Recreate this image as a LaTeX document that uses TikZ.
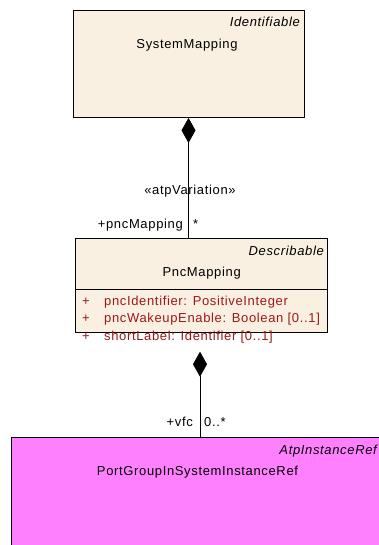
\documentclass[tikz,border=0pt]{standalone}
\usepackage{fontspec}
\setmainfont[LetterSpace=5]{Liberation Sans}
\usetikzlibrary{arrows.meta,positioning}
\definecolor{classfill}{RGB}{250,240,225}
\definecolor{reffill}{RGB}{255,128,255}
\definecolor{attrred}{RGB}{155,25,25}
\tikzset{
  classbox/.style={draw=black, fill=classfill, line width=0.8pt, inner sep=0pt},
  refbox/.style={draw=black, fill=reffill, line width=0.8pt, inner sep=0pt},
  txt/.style={inner sep=0pt, font=\fontsize{13}{15}\selectfont, anchor=base},
  stereo/.style={txt, font=\fontsize{13}{15}\selectfont\itshape, anchor=base east},
  attr/.style={txt, text=attrred, anchor=base west},
  comp/.style={{Diamond[length=25pt,width=14pt]}-, line width=0.8pt},
}
\begin{document}
\begin{tikzpicture}[x=1pt,y=-1pt]
  \useasboundingbox[fill=white] (0,0) rectangle (379,545);
  \clip (0,0) rectangle (379,545);
  % SystemMapping
  \node[classbox, minimum width=231pt, minimum height=107pt] (sm) at (188.5,64) {};
  \node[stereo] (smSt) at (300,26.7) {Identifiable};
  \node[txt] (smName) at (187,48.3) {SystemMapping};
  % PncMapping
  \node[classbox, minimum width=252pt, minimum height=94pt] (pnc) at (201.7,285) {};
  \coordinate (sepL) at (75.7,289);
  \coordinate (sepR) at (327.7,289);
  \draw[line width=0.8pt] (sepL) -- (sepR);
  \node[stereo] (pncSt) at (324,255) {Describable};
  \node[txt] (pncName) at (201.7,276.7) {PncMapping};
  \foreach \t [count=\i] in {{pncIdentifier: PositiveInteger},
      {pncWakeupEnable: Boolean [0..1]}, {shortLabel: Identifier [0..1]}} {
    \node[attr] (plus\i) at (82,287.2+17.85*\i) {+};
    \node[attr] (attr\i) at (104,287.2+17.85*\i) {\t};
  }
  % PortGroupInSystemInstanceRef
  \node[refbox, minimum width=378pt, minimum height=122pt] (ref) at (200,498.7) {};
  \node[stereo] (refSt) at (377,454) {AtpInstanceRef};
  \node[txt] (refName) at (197.5,475.7) {PortGroupInSystemInstanceRef};
  % aggregations
  \draw[comp] (sm.south) -- (sm.south |- pnc.north);
  \node[txt] (var) at (190,194.3) {«atpVariation»};
  \node[txt, anchor=base east] (roleA) at (183,228.3) {+pncMapping};
  \node[txt, anchor=base west] (multA) at (193,228.3) {*};
  \coordinate (pncOut) at (200,351.7);
  \draw[comp] (pncOut) -- (pncOut |- ref.north);
  \node[txt, anchor=base east] (roleB) at (193,426.7) {+vfc};
  \node[txt, anchor=base west] (multB) at (204,426.7) {0..*};
\end{tikzpicture}
\end{document}
